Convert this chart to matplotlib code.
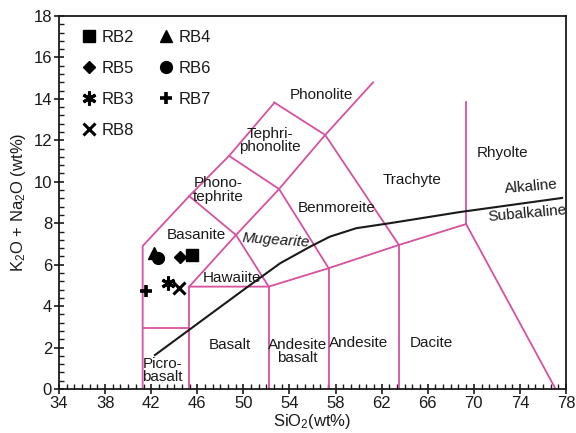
import matplotlib
matplotlib.use("Agg")
import matplotlib.pyplot as plt
from matplotlib.ticker import MultipleLocator, AutoMinorLocator

plt.rcParams['font.family'] = ['Liberation Sans', 'DejaVu Sans']
plt.rcParams['mathtext.default'] = 'regular'

# ---- sample data (SiO2, K2O+Na2O) ----
samples = ['RB2', 'RB5', 'RB3', 'RB8', 'RB4', 'RB6', 'RB7']
sio2 = {'RB2': [45.5], 'RB5': [44.5], 'RB3': [43.5], 'RB8': [44.4],
        'RB4': [42.25], 'RB6': [42.6], 'RB7': [41.55]}
alk = {'RB2': [6.47], 'RB5': [6.39], 'RB3': [5.1], 'RB8': [4.86],
       'RB4': [6.56], 'RB6': [6.3], 'RB7': [4.73]}

# ---- classification boundaries ----
boundaries = [
    ([41.26, 41.26, 45.3, 48.76, 52.7], [0, 6.9, 9.31, 11.25, 13.82]),
    ([41.26, 45.3], [2.94, 2.94]),
    ([45.3, 45.3], [0, 4.94]),
    ([52.2, 52.2], [0, 4.94]),
    ([57.4, 57.4], [0, 5.83]),
    ([63.5, 63.5], [0, 6.95]),
    ([45.3, 52.2, 57.4, 63.5, 69.33, 77.1], [4.94, 4.94, 5.83, 6.95, 7.96, 0]),
    ([69.33, 69.33], [7.96, 13.85]),
    ([45.3, 49.36, 53.1, 57.1, 61.26], [4.94, 7.43, 9.65, 12.26, 14.8]),
    ([45.3, 49.36, 52.2], [9.31, 7.43, 4.94]),
    ([48.76, 53.1, 57.4], [11.25, 9.65, 5.83]),
    ([52.7, 57.1, 63.5], [13.82, 12.26, 6.95]),
]

alk_x = [42.33, 50.0, 53.2, 55.8, 57.5, 59.8, 62.7, 68.8, 77.66]
alk_y = [1.64, 4.78, 6.07, 6.87, 7.35, 7.76, 8.0, 8.54, 9.22]

field_labels = [
    ('Phonolite', 56.8, 14.2, 0, 'normal'),
    ('Tephri-\nphonolite', 52.3, 12.0, 0, 'normal'),
    ('Phono-\ntephrite', 47.8, 9.6, 0, 'normal'),
    ('Basanite', 45.9, 7.43, 0, 'normal'),
    ('Mugearite', 52.8, 7.19, -4, 'italic'),
    ('Hawaiite', 49.0, 5.34, 0, 'normal'),
    ('Benmoreite', 58.1, 8.72, 0, 'normal'),
    ('Trachyte', 64.6, 10.1, 0, 'normal'),
    ('Rhyolte', 72.5, 11.4, 0, 'normal'),
    ('Alkaline', 75.0, 9.75, 5, 'normal'),
    ('Subalkaline', 74.6, 8.45, 5, 'normal'),
    ('Basalt', 48.8, 2.12, 0, 'normal'),
    ('Andesite\nbasalt', 54.7, 1.8, 0, 'normal'),
    ('Andesite', 60.0, 2.2, 0, 'normal'),
    ('Dacite', 66.3, 2.2, 0, 'normal'),
    ('Picro-\nbasalt', 43.0, 0.9, 0, 'normal'),
]

markers = {
    'RB2': dict(marker='s', ms=8),
    'RB5': dict(marker='D', ms=6.5),
    'RB3': dict(marker=(6, 2, 0), ms=10, mew=2.2),
    'RB8': dict(marker='x', ms=8, mew=2.2),
    'RB4': dict(marker='^', ms=9),
    'RB6': dict(marker='o', ms=8.5),
    'RB7': dict(marker='+', ms=9, mew=2.6),
}

pink = '#d6519e'
ink = '#1a1a1a'

fig = plt.figure(figsize=(5.76, 4.33), dpi=100)
ax = fig.add_axes([59/576, 1-389/433, (566-59)/576, (389-16)/433])

for xs, ys in boundaries:
    ax.plot(xs, ys, color=pink, lw=1.3, solid_joinstyle='miter', zorder=2)
ax.plot(alk_x, alk_y, color=ink, lw=1.5, zorder=3)

for text, x, y, rot, style in field_labels:
    ax.text(x, y, text, ha='center', va='center', fontsize=11, rotation=rot,
            style=style, color=ink, linespacing=0.95, zorder=4)

for s in samples:
    ax.plot(sio2[s], alk[s], linestyle='none', color='black', mfc='black',
            mec='black', label=s, zorder=5, **markers[s])

leg = ax.legend(loc='upper left', bbox_to_anchor=(0.03, 0.98), ncol=2,
                frameon=False, fontsize=12, handlelength=1.0,
                handletextpad=0.25, labelspacing=0.95, columnspacing=1.4,
                borderaxespad=0)
for t in leg.get_texts():
    t.set_color(ink)

ax.set_xlim(34, 78)
ax.set_ylim(0, 18)
ax.xaxis.set_major_locator(MultipleLocator(4, offset=2))
ax.xaxis.set_minor_locator(AutoMinorLocator(6))
ax.yaxis.set_major_locator(MultipleLocator(2))
ax.yaxis.set_minor_locator(AutoMinorLocator(5))
ax.tick_params(which='major', direction='inout', length=7, width=1.2,
               colors=ink, labelsize=12, pad=1.5)
ax.tick_params(which='minor', direction='in', length=3.5, width=1.0, colors=ink)
for sp in ax.spines.values():
    sp.set_color(ink)
    sp.set_linewidth(1.3)

ax.set_xlabel('SiO$_2$(wt%)', fontsize=12, color=ink, labelpad=1)
ax.set_ylabel('K$_2$O + Na$_2$O (wt%)', fontsize=12, color=ink, labelpad=4)

fig.savefig('out.png', dpi=100)
